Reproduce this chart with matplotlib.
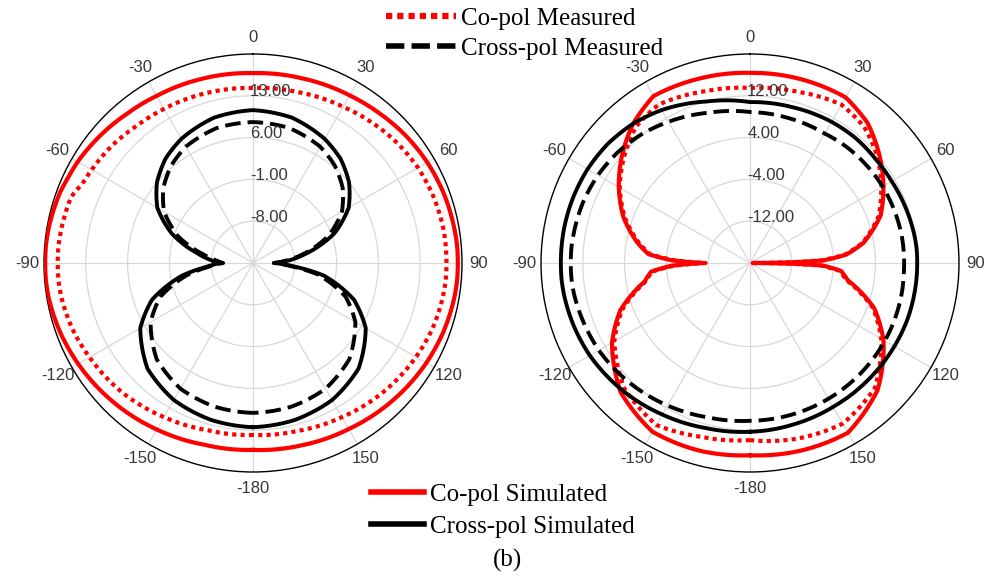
import numpy as np
import matplotlib.pyplot as plt
from matplotlib.lines import Line2D

# ---- data (dB) ----
ang_left = [-180, -165, -150, -135, -120, -110, -100, -95, -90, -85, -80, -70, -65, -60,
            -50, -40, -30, -15, 0, 15, 30, 40, 50, 60, 70, 80, 85, 90, 95, 100, 110,
            120, 135, 150, 165, 180]
co_sim_left = [16.3, 16.5, 17.2, 18.0, 18.8, 19.3, 19.7, 19.8, 19.8, 19.8, 19.7, 19.4, 19.1, 18.9,
               18.3, 17.7, 17.3, 17.0, 16.8, 17.0, 17.4, 17.8, 18.3, 18.7, 19.0, 19.2, 19.3, 19.3,
               19.3, 19.2, 18.9, 18.5, 17.8, 17.1, 16.6, 16.3]
co_meas_left = [13.8, 14.0, 14.8, 15.8, 16.6, 17.2, 17.6, 17.7, 17.7, 17.7, 17.6, 17.4, 16.5, 16.2,
                15.7, 15.1, 14.8, 14.5, 14.3, 14.6, 15.2, 15.8, 16.4, 16.9, 17.2, 17.4, 17.4, 17.4,
                17.4, 17.3, 17.0, 16.5, 15.7, 14.8, 14.1, 13.8]
cross_sim_left = [12.5, 12.2, 11.5, 10.0, 6.8, 3.0, -3.0, -7.0, -9.5, -7.5, -5.5, -0.5, 1.5, 3.5,
                  6.0, 7.8, 9.0, 10.2, 10.6, 10.2, 9.0, 7.8, 6.0, 3.5, -0.5, -6.0, -8.5, -11.5,
                  -8.0, -3.0, 3.0, 6.8, 10.0, 11.5, 12.2, 12.5]
cross_meas_left = [10.1, 9.9, 9.3, 7.8, 4.8, 1.5, -4.0, -7.5, -10.0, -8.5, -6.5, -1.5, 0.3, 2.2,
                   4.6, 6.3, 7.5, 8.4, 8.6, 8.4, 7.5, 6.3, 4.6, 2.2, -1.5, -6.5, -9.0, -11.5,
                   -8.5, -4.0, 1.5, 4.8, 7.8, 9.3, 9.9, 10.1]

ang_right = [-180, -165, -150, -135, -120, -110, -100, -95, -92, -90, -88, -85, -80, -70, -60,
             -50, -40, -30, -15, 0, 15, 30, 40, 50, 60, 70, 80, 85, 88, 89, 90, 91, 92, 95,
             100, 110, 120, 135, 150, 165, 180]
co_sim_right = [16.8, 17.2, 17.3, 15.0, 10.5, 6.4, 0.5, -1.0, -5.0, -11.0, -5.0, -0.5, 1.8, 5.8, 9.0,
                12.0, 14.8, 16.9, 16.6, 16.4, 16.5, 16.6, 15.0, 12.3, 9.5, 6.6, 2.0, -1.5, -6.0, -12.0,
                -19.5, -12.0, -6.0, -2.5, -1.0, 5.3, 9.5, 14.5, 17.5, 17.2, 16.8]
co_meas_right = [13.9, 14.5, 15.8, 14.0, 10.0, 6.0, 0.3, -1.2, -5.5, -11.5, -5.5, -0.8, 1.5, 5.5, 8.8,
                 11.5, 14.0, 15.0, 14.0, 13.5, 14.0, 15.0, 14.0, 11.8, 9.0, 6.2, 1.8, -1.8, -6.5, -12.5,
                 -19.0, -12.5, -6.5, -2.8, -1.3, 5.0, 9.0, 13.8, 15.5, 14.8, 13.9]
cross_sim_right = [12.3, 12.7, 13.5, 14.5, 15.4, 15.8, 16.1, 16.2, 16.2, 16.2, 16.2, 16.2, 16.2, 16.1, 15.9,
                   15.5, 14.8, 13.8, 12.0, 10.8, 10.9, 11.2, 11.3, 11.2, 11.3, 11.6, 11.9, 12.0, 12.0, 12.0,
                   12.0, 12.0, 12.0, 12.0, 12.0, 12.0, 11.9, 11.8, 11.8, 12.0, 12.3]
cross_meas_right = [10.2, 10.6, 11.5, 12.5, 13.4, 13.8, 14.2, 14.3, 14.3, 14.3, 14.3, 14.3, 14.2, 14.0, 13.6,
                    13.0, 12.2, 11.2, 9.8, 8.9, 8.7, 8.6, 8.9, 9.1, 9.3, 9.4, 9.5, 9.5, 9.5, 9.5,
                    9.5, 9.5, 9.5, 9.5, 9.6, 9.7, 9.8, 9.9, 10.0, 10.1, 10.2]

theta_labels = ["0", "30", "60", "90", "120", "150", "-180", "-150", "-120", "-90", "-60", "-30"]
rings_left = [-8, -1, 6, 13]
rings_right = [-12, -4, 4, 12]
rlim_left = (-15, 20)
rlim_right = (-20, 20)

RED = "#ff0000"
SERIF = "Liberation Serif"
SANS = "Liberation Sans"

fig = plt.figure(figsize=(9.98, 5.8), dpi=100)


def style_polar(ax, rlim, rings):
    ax.set_theta_zero_location("N")
    ax.set_theta_direction(-1)
    ax.set_ylim(*rlim)
    ax.set_yticks(rings)
    ax.set_yticklabels([])
    ax.set_xticks(np.deg2rad(np.arange(0, 360, 30)))
    ax.set_xticklabels(theta_labels, fontsize=12, color="#383838", family=SANS)
    ax.set_xticks(np.deg2rad(np.arange(0, 360, 5)), minor=True)
    ax.tick_params(axis="x", which="major", direction="in", length=9, width=1,
                   color="black", pad=5)
    ax.tick_params(axis="x", which="minor", direction="in", length=4, width=0.8,
                   color="black")
    ax.grid(True, color="#d8d8d8", lw=0.9)
    ax.spines["polar"].set_color("black")
    ax.spines["polar"].set_linewidth(1.0)
    for v in rings:
        ax.annotate(f"{v:.2f}", xy=(0, v), xytext=(-2, 3), textcoords="offset points",
                    ha="left", va="center", fontsize=12, color="#383838",
                    family=SANS, zorder=10)


def draw(ax, ang, co_sim, co_meas, cross_sim, cross_meas):
    t = np.deg2rad(ang)
    lines = []
    lines += ax.plot(t, co_sim, color=RED, lw=3.0, zorder=3)
    lines += ax.plot(t, co_meas, color=RED, lw=3.0, ls=(0, (1, 1)), zorder=3)
    lines += ax.plot(t, cross_sim, color="black", lw=2.8, zorder=3)
    lines += ax.plot(t, cross_meas, color="black", lw=2.8, ls=(0, (4, 1.8)), zorder=3)
    # let the polar transform draw each segment along theta instead of as a chord
    for ln in lines:
        ln.get_path()._interpolation_steps = 20


axL = fig.add_axes([44 / 998, 108 / 580, 418 / 998, 418 / 580], projection="polar")
axR = fig.add_axes([541 / 998, 108 / 580, 418 / 998, 418 / 580], projection="polar")
style_polar(axL, rlim_left, rings_left)
style_polar(axR, rlim_right, rings_right)
draw(axL, ang_left, co_sim_left, co_meas_left, cross_sim_left, cross_meas_left)
draw(axR, ang_right, co_sim_right, co_meas_right, cross_sim_right, cross_meas_right)

# legends
h_meas = [Line2D([], [], color=RED, lw=4.5, ls=(0, (1, 0.8))),
          Line2D([], [], color="black", lw=4.0, ls=(0, (3.3, 1.3)))]
fig.legend(h_meas, ["Co-pol Measured", "Cross-pol Measured"], loc="upper left",
           bbox_to_anchor=(386 / 998, 1 - 7 / 580), frameon=False,
           prop={"family": SERIF, "size": 18}, handlelength=2.8, handletextpad=0.2,
           labelspacing=0.3, borderpad=0, borderaxespad=0)
h_sim = [Line2D([], [], color=RED, lw=4.0), Line2D([], [], color="black", lw=4.0)]
fig.legend(h_sim, ["Co-pol Simulated", "Cross-pol Simulated"], loc="upper left",
           bbox_to_anchor=(371 / 998, 1 - 483 / 580), frameon=False,
           prop={"family": SERIF, "size": 18}, handlelength=2.1, handletextpad=0.28,
           labelspacing=0.4, borderpad=0, borderaxespad=0)
fig.text(507 / 998, 1 - 560 / 580, "(b)", ha="center", va="center",
         family=SERIF, fontsize=18)

fig.savefig("out.png", dpi=100)
